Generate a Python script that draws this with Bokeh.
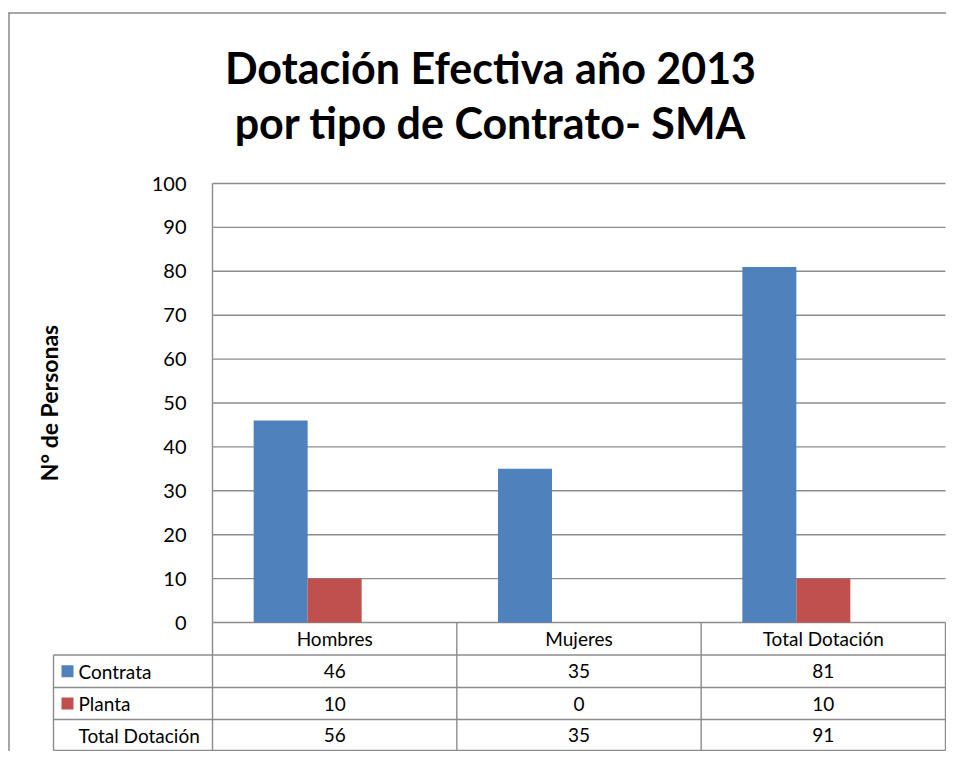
from bokeh.plotting import figure
from bokeh.models import FixedTicker, Range1d
from bokeh.core.properties import value
from bokeh.embed import file_html
from bokeh.resources import INLINE

# ---- data ----
categories = ["Hombres", "Mujeres", "Total Dotación"]
series_names = ["Contrata", "Planta", "Total Dotación"]
contrata = [46, 35, 81]
planta = [10, 0, 10]
total_dotacion = [56, 35, 91]
y_ticks = [0, 10, 20, 30, 40, 50, 60, 70, 80, 90, 100]
title_lines = ["Dotación Efectiva año 2013", "por tipo de Contrato- SMA"]
y_title = "N° de Personas"

# ---- layout (pixels, canvas coordinates) ----
W, H = 946, 751
PX_LEFT, PX_RIGHT = 212, 945
PX_Y0, PX_Y100 = 622, 183
kx = (PX_RIGHT - PX_LEFT) / len(categories)
ky = (PX_Y0 - PX_Y100) / (y_ticks[-1] - y_ticks[0])


def dx(px):
    return (px - PX_LEFT) / kx


def dy(py):
    return (PX_Y0 - py) / ky


BLUE = "#4F81BD"
RED = "#C0504D"
GRID = "#8C8C8C"
FONT = "Lato"

p = figure(width=W, height=H,
           x_range=Range1d(dx(0), dx(W)),
           y_range=Range1d(dy(H), dy(0)),
           x_axis_type=None, output_backend="svg", toolbar_location=None,
           title=None, min_border=0)
p.outline_line_color = None
p.background_fill_color = "white"
p.border_fill_color = "white"
p.ygrid.visible = False

ax = p.yaxis[0]
ax.fixed_location = 0
ax.bounds = (y_ticks[0], y_ticks[-1])
ax.ticker = FixedTicker(ticks=y_ticks)
ax.major_tick_in = 0
ax.major_tick_out = 0
ax.minor_tick_in = 0
ax.minor_tick_out = 0
ax.axis_line_color = GRID
ax.axis_line_width = 1.4
ax.major_label_standoff = 26
ax.major_label_text_font = FONT
ax.major_label_text_font_size = "20px"
ax.major_label_text_color = "black"
ax.axis_label = y_title
ax.axis_label_text_font = FONT
ax.axis_label_text_font_size = "23px"
ax.axis_label_text_font_style = "bold"
ax.axis_label_text_color = "black"
ax.axis_label_standoff = 86

ncat = len(categories)
idx = list(range(ncat))

# gridlines across the category span
p.segment(x0=[0] * len(y_ticks), y0=y_ticks, x1=[ncat] * len(y_ticks), y1=y_ticks,
          line_color=GRID, line_width=1.4)

# bars (third series "Total Dotación" has no fill in the original)
bw = 0.221
p.vbar(x=[i + 0.5 - bw for i in idx], top=contrata, width=bw,
       fill_color=BLUE, line_color=None)
p.vbar(x=[i + 0.5 for i in idx], top=planta, width=bw,
       fill_color=RED, line_color=None)

# ---- data table ----
row_edges = [622, 654.5, 687, 719, 750]
TABLE_LEFT = 53
y_bottom = dy(row_edges[-1])
hy = [dy(e) for e in row_edges[1:]]
p.segment(x0=[dx(TABLE_LEFT)] * len(hy), y0=hy, x1=[ncat] * len(hy), y1=hy,
          line_color=GRID, line_width=1.4)
vx = list(range(ncat + 1))
p.segment(x0=vx, y0=[0] * len(vx), x1=vx, y1=[y_bottom] * len(vx),
          line_color=GRID, line_width=1.4)
p.segment(x0=[dx(TABLE_LEFT)], y0=[dy(row_edges[1])], x1=[dx(TABLE_LEFT)], y1=[y_bottom],
          line_color=GRID, line_width=1.4)

row_centers = [(row_edges[k] + row_edges[k + 1]) / 2 for k in range(len(row_edges) - 1)]

p.text(x=[i + 0.5 for i in idx], y=[dy(row_centers[0])] * ncat, text=categories,
       text_align="center", text_baseline="middle", text_font=value(FONT),
       text_font_size="19px", text_color="black")

series_vals = [contrata, planta, total_dotacion]
for r, (name, vals) in enumerate(zip(series_names, series_vals)):
    yc = dy(row_centers[r + 1])
    p.text(x=[i + 0.5 for i in idx], y=[yc] * ncat, text=[str(v) for v in vals],
           text_align="center", text_baseline="middle", text_font=value(FONT),
           text_font_size="19px", text_color="black")
    p.text(x=[dx(78)], y=[yc], text=[name], text_align="left", text_baseline="middle",
           text_font=value(FONT), text_font_size="19px", text_color="black")

p.scatter(x=[dx(67)] * 2, y=[dy(row_centers[1]), dy(row_centers[2])], marker="square",
          size=12, fill_color=[BLUE, RED], line_color=None)

# outer chart border (left and top)
p.segment(x0=[dx(8.5), dx(8)], y0=[dy(12), dy(12.5)], x1=[dx(8.5), dx(W)],
          y1=[dy(H), dy(12.5)], line_color="#8A8A8A", line_width=1.5)

# title
p.text(x=[dx(490)] * 2, y=[dy(67), dy(122)], text=title_lines, text_align="center",
       text_baseline="alphabetic", text_font=value(FONT), text_font_size="43px",
       text_font_style="bold", text_color="black")

open("out.html", "w").write(file_html(p, INLINE))
